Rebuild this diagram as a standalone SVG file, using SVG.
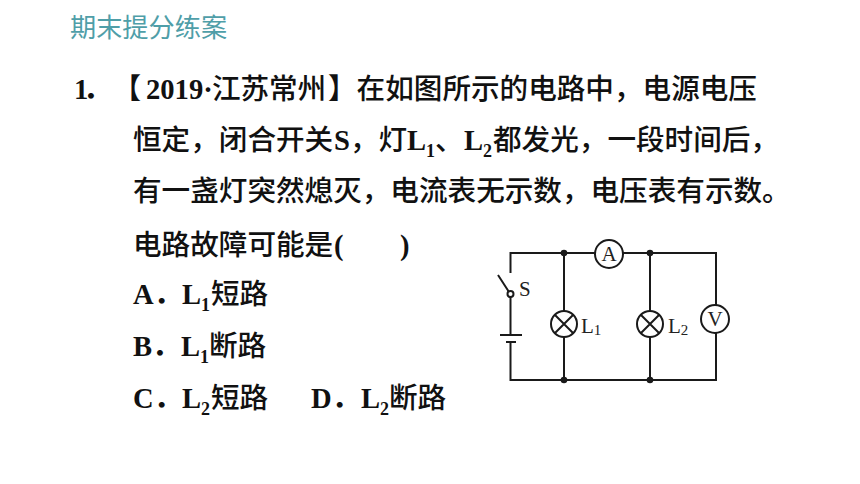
<svg xmlns="http://www.w3.org/2000/svg" width="860" height="484" viewBox="0 0 860 484">
<style>
.t{font-family:"Liberation Serif","Noto Sans CJK SC",serif;font-size:28.6px;fill:#111;font-weight:700}
.c{font-family:"Noto Sans CJK SC","Liberation Serif",serif;font-size:28.6px;fill:#111;font-weight:500}
.h{font-family:"Noto Sans CJK SC",sans-serif;font-size:26.2px;fill:#4f9ea8;font-weight:400}
.s{font-size:18px}
.w{fill:none;stroke:#1a1a1a;stroke-width:2}
.e{fill:#fff;stroke:#1a1a1a;stroke-width:2}
.d{fill:#1a1a1a}
.l{font-family:"Liberation Serif",serif;font-size:21px;fill:#222}
.ls{font-size:15px}
</style>
<rect width="860" height="484" fill="#fff"/>
<text class="h" x="70" y="37">期末提分练案</text>
<g id="question">
<text class="t" x="74 83" y="99">1．</text>
<text class="c" x="112.5" y="99">【</text>
<text class="t" x="146" y="99">2019·</text>
<text class="c" x="212" y="99" textLength="114" lengthAdjust="spacing">江苏常州</text>
<text class="c" x="328" y="99">】在如图所示的电路中，电源电压</text>
<text class="c" x="133" y="150">恒定，闭合开关</text>
<text class="t" x="334" y="150">S</text>
<text class="c" x="350" y="150">，灯</text>
<text class="t" x="407" y="150">L<tspan class="s" dy="7">1</tspan></text>
<text class="c" x="435" y="150">、</text>
<text class="t" x="464" y="150">L<tspan class="s" dy="7">2</tspan></text>
<text class="c" x="493" y="150">都发光，一段时间后，</text>
<text class="c" x="133" y="201">有一盏灯突然熄灭，电流表无示数，电压表有示数。</text>
<text class="c" x="133" y="255">电路故障可能是</text>
<text class="t" x="334" y="255">(</text>
<text class="t" x="400" y="255">)</text>
</g>
<g id="options">
<text class="t" x="133" y="304">A．</text>
<text class="t" x="182" y="304">L<tspan class="s" dy="7">1</tspan></text>
<text class="c" x="211" y="304">短路</text>
<text class="t" x="133" y="356">B．</text>
<text class="t" x="181" y="356">L<tspan class="s" dy="7">1</tspan></text>
<text class="c" x="209" y="356">断路</text>
<text class="t" x="133" y="408">C．</text>
<text class="t" x="182" y="408">L<tspan class="s" dy="7">2</tspan></text>
<text class="c" x="211" y="408">短路</text>
<text class="t" x="311" y="408">D．</text>
<text class="t" x="361" y="408">L<tspan class="s" dy="7">2</tspan></text>
<text class="c" x="389" y="408">断路</text>
</g>
<g id="connectors">
<path class="w" d="M510.5 273V253H716V380H510.5V342M510.5 335V294M564 253V380M650 253V380"/>
<path class="w" d="M498 275L509 292M500 335H522M506 342H516"/>
</g>
<g id="junctions">
<circle class="d" cx="564" cy="253" r="3.3"/><circle class="d" cx="650" cy="253" r="3.3"/>
<circle class="d" cx="564" cy="380" r="3.3"/><circle class="d" cx="650" cy="380" r="3.3"/>
</g>
<g id="switch-S"><circle class="e" cx="510.5" cy="294" r="3"/><text class="l" x="519" y="296">S</text></g>
<g id="ammeter"><circle class="e" cx="609" cy="254" r="14"/><text class="l" x="609" y="261" text-anchor="middle">A</text></g>
<g id="voltmeter"><circle class="e" cx="715" cy="319" r="14"/><text class="l" x="715" y="326" text-anchor="middle">V</text></g>
<g id="lamp-L1"><circle class="e" cx="564" cy="324" r="13"/><path class="w" d="M555 315L573 333M573 315L555 333"/><text class="l" x="581" y="333">L<tspan class="ls" dy="2">1</tspan></text></g>
<g id="lamp-L2"><circle class="e" cx="650" cy="324" r="13"/><path class="w" d="M641 315L659 333M659 315L641 333"/><text class="l" x="668" y="333">L<tspan class="ls" dy="2">2</tspan></text></g>
</svg>
